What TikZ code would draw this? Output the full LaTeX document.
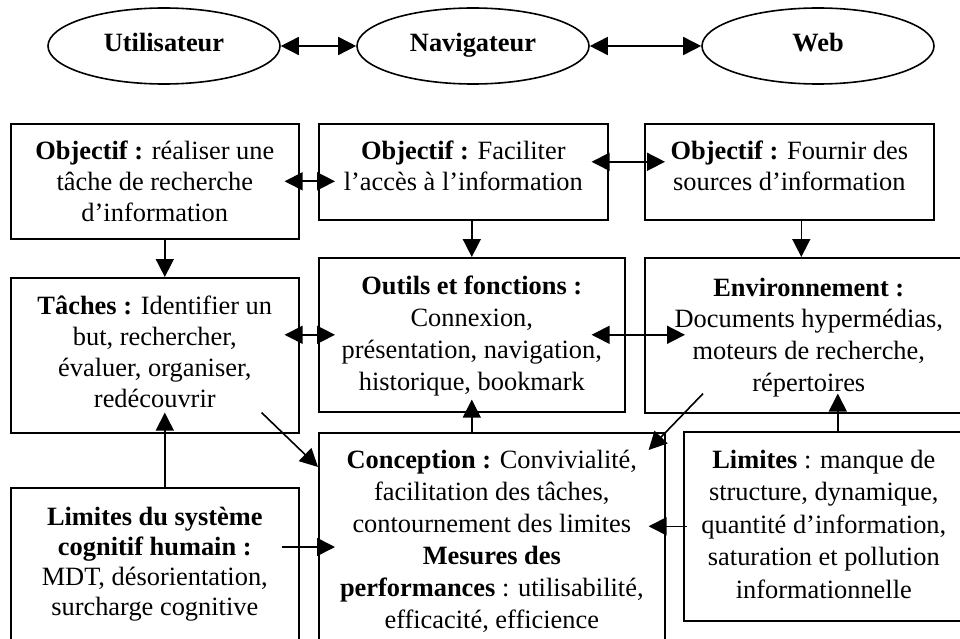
\documentclass[tikz,border=0pt]{standalone}
\usepackage{fontspec}
\setmainfont{Liberation Serif}
\usetikzlibrary{shapes.geometric,arrows.meta}
\begin{document}
\begin{tikzpicture}[x=1pt,y=-1pt,
 box/.style={draw, line width=1.6pt, rectangle, anchor=north west, inner sep=0pt},
 oval/.style={draw, line width=1.6pt, ellipse, minimum width=232pt, minimum height=76pt, inner sep=0pt, font=\fontsize{26.4}{30}\selectfont\bfseries, execute at begin node={\strut}},
 txt/.style={anchor=north, inner sep=0pt, align=center, font=\fontsize{26.4}{#1}\selectfont, execute at begin node={\strut}},
 txt/.default=31.3,
 arr/.style={line width=1.6pt, -{Triangle[length=18pt,width=18pt]}},
 darr/.style={line width=1.6pt, {Triangle[length=18pt,width=18pt]}-{Triangle[length=18pt,width=18pt]}}]
\useasboundingbox (0,0) rectangle (960,639);
\clip (0,0) rectangle (960,639);

% ellipses
\node[oval] (U) at (164,46) {Utilisateur};
\node[oval] (N) at (473,46) {Navigateur};
\node[oval] (W) at (818,46) {Web};

% boxes
\node[box, minimum width=288pt, minimum height=115pt] (A) at (10,123) {};
\node[box, minimum width=289pt, minimum height=96pt] (B) at (318,123) {};
\node[box, minimum width=289pt, minimum height=96pt] (C) at (644,123) {};
\node[box, minimum width=288pt, minimum height=155pt] (T) at (10,277) {};
\node[box, minimum width=306pt, minimum height=154pt] (O) at (318,257) {};
\node[box, minimum width=328pt, minimum height=155pt] (E) at (644,257) {};
\node[box, minimum width=346pt, minimum height=260pt] (K) at (318,432) {};
\node[box, minimum width=280pt, minimum height=189pt] (L) at (683,431) {};
\node[box, minimum width=288pt, minimum height=200pt] (M) at (10,487) {};

% texts
\node[txt=31] (tA) at ([shift={(0,17.5)}]A.north) {\textbf{Objectif :} réaliser une\\tâche de recherche\\d’information};
\node[txt=31] (tB) at ([shift={(0,17.5)}]B.north) {\textbf{Objectif :} Faciliter\\l’accès à l’information};
\node[txt=31] (tC) at ([shift={(0,17.5)}]C.north) {\textbf{Objectif :} Fournir des\\sources d’information};
\node[txt=31] (tT) at ([shift={(0,18.5)}]T.north) {\textbf{Tâches :} Identifier un\\but, rechercher,\\évaluer, organiser,\\redécouvrir};
\node[txt=32] (tO) at ([shift={(0,19)}]O.north) {\textbf{Outils et fonctions :}\\Connexion,\\présentation, navigation,\\historique, bookmark};
\node[txt=31.8] (tE) at ([shift={(0,20.5)}]E.north) {\textbf{Environnement :}\\Documents hypermédias,\\moteurs de recherche,\\répertoires};
\node[txt=32] (tK) at ([shift={(0,18)}]K.north) {\textbf{Conception :} Convivialité,\\facilitation des tâches,\\contournement des limites\\\textbf{Mesures des}\\\textbf{performances} : utilisabilité,\\efficacité, efficience};
\node[txt=32.5] (tL) at ([shift={(0,18.5)}]L.north) {\textbf{Limites} : manque de\\structure, dynamique,\\quantité d’information,\\saturation et pollution\\informationnelle};
\node[txt=30.2] (tM) at ([shift={(0,19.5)}]M.north) {\textbf{Limites du système}\\\textbf{cognitif humain :}\\MDT, désorientation,\\surcharge cognitive};

% connectors
\draw[darr] (U.east) -- (N.west);
\draw[darr] (N.east) -- (W.west);
\draw[darr, shorten <=-15pt, shorten >=-17pt] (A.east) -- (A.east -| B.west);
\draw[darr, shorten <=-17pt, shorten >=-21pt] ([shift={(0,-10)}]B.east) -- ([shift={(0,-10)}]B.east -| C.west);
\draw[arr] (O.north |- B.south) -- (O.north);
\draw[arr] ([shift={(12,0)}]C.south) -- ([shift={(12,0)}]C.south |- E.north);
\draw[arr] ([shift={(10,0)}]A.south) -- ([shift={(10,0)}]T.north);
\draw[darr, shorten <=-15pt, shorten >=-17pt] (O.west -| T.east) -- (O.west);
\draw[darr, shorten <=-34pt, shorten >=-41pt] (O.east) -- (O.east -| E.west);
\draw[arr] ([shift={(-38,-21)}]T.south east) -- ([shift={(0,35)}]K.north west);
\draw[arr] ([shift={(59,-20)}]E.south west) -- ([shift={(-17,18)}]K.north east);
\draw[arr, shorten >=-21pt] ([shift={(10,0)}]M.north) -- ([shift={(10,0)}]M.north |- T.south);
\draw[arr, shorten >=-13pt] (O.south |- K.north) -- (O.south);
\draw[arr, shorten >=-20pt] ([shift={(14,0)}]L.north) -- ([shift={(14,0)}]L.north |- E.south);
\draw[arr, shorten <=-4pt, shorten >=-17pt] (L.west) -- (L.west -| K.east);
\draw[arr, shorten <=-18pt, shorten >=-17pt] ([shift={(0,60)}]M.north east) -- ([shift={(0,60)}]M.north east -| K.west);
\end{tikzpicture}
\end{document}
